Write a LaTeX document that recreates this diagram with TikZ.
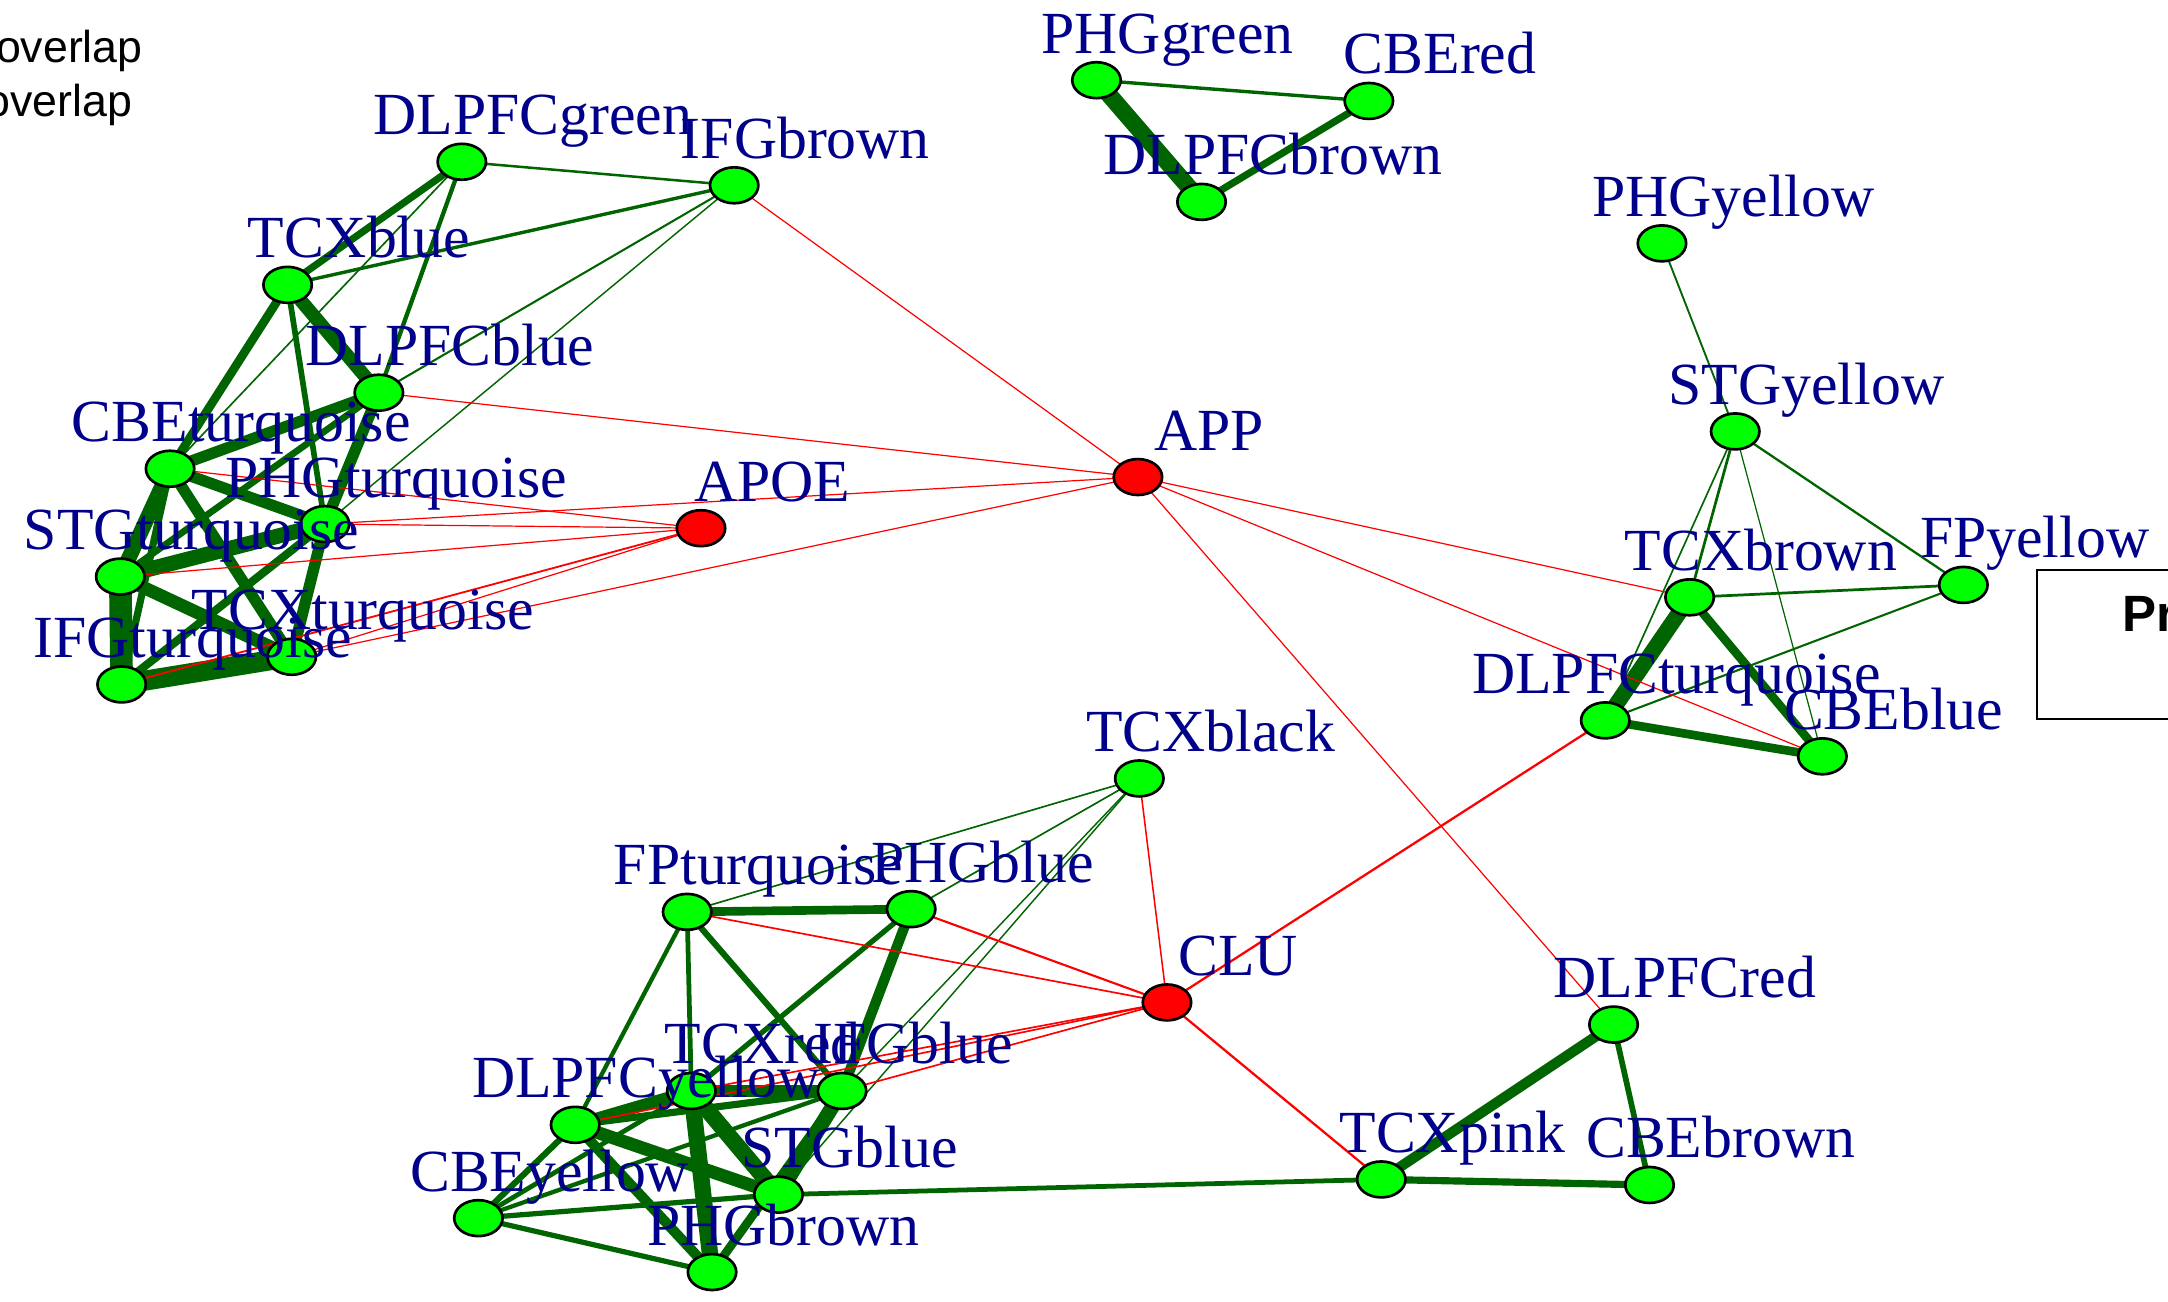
\documentclass[tikz,border=0pt]{standalone}
\usepackage{fontspec}
\setmainfont{Liberation Serif}
\newfontfamily\legfont{Liberation Sans}
\usetikzlibrary{shapes.geometric}

\definecolor{edgegreen}{RGB}{0,100,0}
\definecolor{nodegreen}{RGB}{0,255,0}
\definecolor{labelblue}{RGB}{0,0,139}

\pgfdeclarelayer{paperlayer}
\pgfdeclarelayer{edgelayer}
\pgfdeclarelayer{textlayer}
\pgfsetlayers{paperlayer,edgelayer,main,textlayer}

\tikzset{
  vtx/.style={ellipse, draw=black, line width=1.1pt, minimum width=0.70cm,
              minimum height=0.52cm, inner sep=0pt},
  vlabel/.style={text=labelblue, inner sep=0pt, anchor=base,
                 font=\fontsize{24.6}{29}\selectfont},
  gedge/.style={draw=edgegreen},
  redge/.style={draw=red},
  legtext/.style={inner sep=0pt, anchor=base east,
                  font=\legfont\fontsize{18.4}{22}\selectfont},
}

% vertex with its label set above and to the right
\newcommand{\gnode}[5][nodegreen]{%
  \node[vtx, fill=#1] (#2) at (#3,#4) {};
  \begin{pgfonlayer}{textlayer}
    \node[vlabel] (#2-lab) at (#3+51.5,#4-19.5) {#5};
  \end{pgfonlayer}}

% weighted edges, centre to centre; heavier weights grow a little faster
\newcommand{\gl}[3]{\draw[gedge, line width=(1.65*#3+0.12*#3*#3)*1pt] (#1.center) -- (#2.center);}
\newcommand{\rl}[3]{\draw[redge, line width=1.25*#3pt] (#1.center) -- (#2.center);}

\begin{document}
\begin{tikzpicture}[x=0.02cm, y=-0.02cm]
\useasboundingbox (0,0) rectangle (1568,941);
\begin{pgfonlayer}{paperlayer}
\fill[white] (0,0) rectangle (1568,941);
\end{pgfonlayer}
\clip (0,0) rectangle (1568,941);

% legend remnants
\node[legtext] (leg1) at (103.5,45) {overlap};
\node[legtext] (leg2) at (96,84.6) {overlap};
\draw[line width=0.7pt] (1473,412) rectangle (1620,520);
\node[inner sep=0pt, anchor=base west,
      font=\legfont\bfseries\fontsize{21}{25}\selectfont] (boxtitle) at (1535,457) {Pr};

% vertices
\gnode{PHGgreen}{793}{58}{PHGgreen}
\gnode{CBEred}{990}{73}{CBEred}
\gnode{DLPFCbrown}{869}{146}{DLPFCbrown}
\gnode{DLPFCgreen}{334}{117}{DLPFCgreen}
\gnode{IFGbrown}{531}{134}{IFGbrown}
\gnode{TCXblue}{208}{206}{TCXblue}
\gnode{DLPFCblue}{274}{284}{DLPFCblue}
\gnode{CBEturquoise}{123}{339}{CBEturquoise}
\gnode{PHGturquoise}{235}{379}{PHGturquoise}
\gnode{STGturquoise}{87}{417}{STGturquoise}
\gnode{TCXturquoise}{211}{475}{TCXturquoise}
\gnode{IFGturquoise}{88}{495}{IFGturquoise}
\gnode[red]{APOE}{507}{382}{APOE}
\gnode[red]{APP}{823}{345}{APP}
\gnode{PHGyellow}{1202}{176}{PHGyellow}
\gnode{STGyellow}{1255}{312}{STGyellow}
\gnode{TCXbrown}{1222}{432}{TCXbrown}
\gnode{FPyellow}{1420}{423}{FPyellow}
\gnode{DLPFCturquoise}{1161}{521}{DLPFCturquoise}
\gnode{CBEblue}{1318}{547}{CBEblue}
\gnode{TCXblack}{824}{563}{TCXblack}
\gnode{FPturquoise}{497}{659.5}{FPturquoise}
\gnode{PHGblue}{659}{657.5}{PHGblue}
\gnode[red]{CLU}{844}{725}{CLU}
\gnode{TCXred}{500}{789}{TCXred}
\gnode{IFGblue}{609}{789}{IFGblue}
\gnode{DLPFCyellow}{416}{813.5}{DLPFCyellow}
\gnode{STGblue}{563}{864}{STGblue}
\gnode{CBEyellow}{346}{881}{CBEyellow}
\gnode{PHGbrown}{515}{920}{PHGbrown}
\gnode{TCXpink}{999}{853}{TCXpink}
\gnode{CBEbrown}{1193}{857}{CBEbrown}
\gnode{DLPFCred}{1167}{741}{DLPFCred}

\begin{pgfonlayer}{edgelayer}
% turquoise / blue module group
\gl{DLPFCgreen}{IFGbrown}{0.6}
\gl{DLPFCgreen}{TCXblue}{1.6}
\gl{DLPFCgreen}{DLPFCblue}{1.0}
\gl{DLPFCgreen}{CBEturquoise}{0.4}
\gl{IFGbrown}{TCXblue}{0.8}
\gl{IFGbrown}{DLPFCblue}{0.5}
\gl{IFGbrown}{PHGturquoise}{0.35}
\gl{TCXblue}{DLPFCblue}{2.8}
\gl{TCXblue}{CBEturquoise}{1.9}
\gl{TCXblue}{PHGturquoise}{1.3}
\gl{DLPFCblue}{CBEturquoise}{2.4}
\gl{DLPFCblue}{PHGturquoise}{2.4}
\gl{DLPFCblue}{STGturquoise}{1.5}
\gl{CBEturquoise}{STGturquoise}{3.1}
\gl{CBEturquoise}{PHGturquoise}{2.4}
\gl{CBEturquoise}{IFGturquoise}{1.6}
\gl{CBEturquoise}{TCXturquoise}{2.4}
\gl{PHGturquoise}{STGturquoise}{3.1}
\gl{PHGturquoise}{IFGturquoise}{1.8}
\gl{PHGturquoise}{TCXturquoise}{2.4}
\gl{STGturquoise}{IFGturquoise}{4.3}
\gl{STGturquoise}{TCXturquoise}{2.7}
\gl{IFGturquoise}{TCXturquoise}{3.9}
% green / red triangle
\gl{PHGgreen}{CBEred}{0.8}
\gl{PHGgreen}{DLPFCbrown}{3.4}
\gl{CBEred}{DLPFCbrown}{1.6}
% yellow group
\gl{PHGyellow}{STGyellow}{0.45}
\gl{STGyellow}{TCXbrown}{0.65}
\gl{STGyellow}{DLPFCturquoise}{0.4}
\gl{STGyellow}{CBEblue}{0.3}
\gl{STGyellow}{FPyellow}{0.55}
\gl{TCXbrown}{FPyellow}{0.65}
\gl{TCXbrown}{DLPFCturquoise}{3.2}
\gl{TCXbrown}{CBEblue}{1.9}
\gl{DLPFCturquoise}{FPyellow}{0.5}
\gl{DLPFCturquoise}{CBEblue}{1.9}
% lower group
\gl{TCXblack}{FPturquoise}{0.4}
\gl{TCXblack}{PHGblue}{0.4}
\gl{TCXblack}{IFGblue}{0.35}
\gl{TCXblack}{STGblue}{0.35}
\gl{FPturquoise}{PHGblue}{1.9}
\gl{FPturquoise}{DLPFCyellow}{1.0}
\gl{FPturquoise}{TCXred}{1.1}
\gl{FPturquoise}{IFGblue}{1.4}
\gl{PHGblue}{TCXred}{1.2}
\gl{PHGblue}{IFGblue}{2.2}
\gl{TCXred}{IFGblue}{2.5}
\gl{TCXred}{DLPFCyellow}{2.5}
\gl{TCXred}{STGblue}{3.3}
\gl{TCXred}{PHGbrown}{3.3}
\gl{TCXred}{CBEyellow}{1.1}
\gl{DLPFCyellow}{IFGblue}{1.6}
\gl{DLPFCyellow}{STGblue}{2.7}
\gl{DLPFCyellow}{PHGbrown}{2.2}
\gl{DLPFCyellow}{CBEyellow}{1.4}
\gl{IFGblue}{STGblue}{3.0}
\gl{IFGblue}{PHGbrown}{1.9}
\gl{IFGblue}{CBEyellow}{1.0}
\gl{CBEyellow}{STGblue}{1.2}
\gl{CBEyellow}{PHGbrown}{1.2}
\gl{STGblue}{TCXpink}{1.1}
\gl{TCXpink}{DLPFCred}{2.2}
\gl{TCXpink}{CBEbrown}{1.6}
\gl{DLPFCred}{CBEbrown}{1.3}
% red links
\rl{IFGbrown}{APP}{0.4}
\rl{DLPFCblue}{APP}{0.4}
\rl{PHGturquoise}{APP}{0.4}
\rl{TCXturquoise}{APP}{0.4}
\rl{CBEturquoise}{APOE}{0.4}
\rl{PHGturquoise}{APOE}{0.4}
\rl{STGturquoise}{APOE}{0.4}
\rl{TCXturquoise}{APOE}{0.4}
\rl{IFGturquoise}{APOE}{0.6}
\rl{APP}{TCXbrown}{0.4}
\rl{APP}{CBEblue}{0.4}
\rl{APP}{DLPFCred}{0.4}
\rl{CLU}{TCXblack}{0.5}
\rl{CLU}{FPturquoise}{0.55}
\rl{CLU}{PHGblue}{0.7}
\rl{CLU}{DLPFCyellow}{0.55}
\rl{CLU}{TCXred}{0.55}
\rl{CLU}{IFGblue}{0.55}
\rl{CLU}{DLPFCturquoise}{0.75}
\rl{CLU}{TCXpink}{0.75}
\end{pgfonlayer}
\end{tikzpicture}
\end{document}
